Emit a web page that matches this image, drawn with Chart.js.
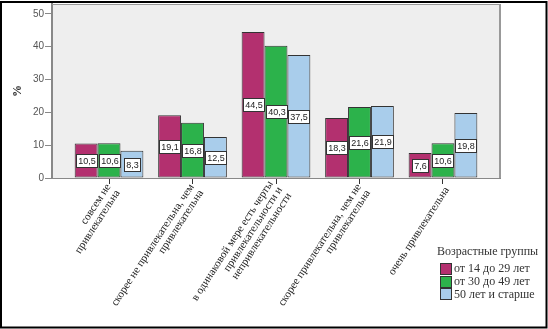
<!DOCTYPE html>
<html><head><meta charset="utf-8">
<script src="https://cdn.jsdelivr.net/npm/chart.js@4/dist/chart.umd.min.js"></script>
<style>html,body{margin:0;padding:0;background:#fff}#w{width:548px;height:329px;position:relative}</style>
</head><body><div id="w"><canvas id="c" width="548" height="329"></canvas></div>
<script>
const categories = [
  ["совсем не", "привлекательна"],
  ["скорее не привлекательна, чем", "привлекательна"],
  ["в одинаковой мере есть черты", "привлекательности и", "непривлекательности"],
  ["скорее привлекательна, чем не", "привлекательна"],
  ["очень привлекательна"]
];
const seriesNames = ["от 14 до 29 лет", "от 30 до 49 лет", "50 лет и старше"];
const age14to29 = [10.5, 19.1, 44.5, 18.3, 7.6];
const age30to49 = [10.6, 16.8, 40.3, 21.6, 10.6];
const age50plus = [8.3, 12.5, 37.5, 21.9, 19.8];
const yTicks = [0, 10, 20, 30, 40, 50];
const legendTitle = "Возрастные группы";
const yTitle = "%";

const colors = ["#B3306F", "#2CB24B", "#A9CDEB"];
const seriesValues = [age14to29, age30to49, age50plus];

const toPoints = arr => arr.map((v, i) => ({x: i + 1, y: v}));

const LABEL_ANGLE = 57 * Math.PI / 180;
const LABEL_LH = 11;

const bgPlugin = {
  id: 'bg',
  beforeDraw(chart) {
    const {ctx, chartArea: a} = chart;
    ctx.save();
    ctx.fillStyle = '#fff';
    ctx.fillRect(0, 0, chart.width, chart.height);
    ctx.fillStyle = '#EEEEEE';
    ctx.fillRect(a.left, a.top, a.right - a.left, a.bottom - a.top);
    ctx.restore();
  },
  afterDatasetsDraw(chart) {
    const ctx = chart.ctx;
    ctx.save();
    chart.data.datasets.forEach((ds, di) => {
      const meta = chart.getDatasetMeta(di);
      meta.data.forEach((bar, i) => {
        const v = ds.data[i].y;
        const txt = v.toFixed(1).replace('.', ',');
        ctx.font = '9px "Liberation Sans", Arial, sans-serif';
        const w = Math.round(ctx.measureText(txt).width + 3);
        const h = 13;
        const cy = (bar.y + bar.base) / 2;
        const x0 = Math.round(bar.x - w / 2) + 0.5;
        const y0 = Math.round(cy - h / 2) + 0.5;
        ctx.fillStyle = '#fff';
        ctx.fillRect(x0, y0, w, h);
        ctx.strokeStyle = '#333';
        ctx.lineWidth = 1;
        ctx.strokeRect(x0, y0, w, h);
        ctx.fillStyle = '#222';
        ctx.textAlign = 'center';
        ctx.textBaseline = 'middle';
        ctx.fillText(txt, x0 + w / 2, y0 + h / 2 + 0.5);
      });
    });
    ctx.restore();
  },
  afterDraw(chart) {
    const {ctx, chartArea: a} = chart;
    const xs = chart.scales.x;
    ctx.save();
    // category labels, rotated, anchored to the axis ticks
    ctx.font = '11px "Liberation Serif", "Times New Roman", serif';
    ctx.fillStyle = '#222';
    ctx.textAlign = 'right';
    ctx.textBaseline = 'middle';
    const vx = Math.sin(LABEL_ANGLE), vy = Math.cos(LABEL_ANGLE);
    categories.forEach((lines, i) => {
      const px = xs.getPixelForValue(i + 1);
      const ax = px + 4, ay = a.bottom + 10;
      const n = lines.length;
      lines.forEach((line, k) => {
        const off = (k - (n - 1) / 2) * LABEL_LH;
        ctx.save();
        ctx.translate(ax + off * vx, ay + off * vy);
        ctx.rotate(-LABEL_ANGLE);
        ctx.fillText(line, 0, 0);
        ctx.restore();
      });
    });
    // plot frame top and right
    ctx.strokeStyle = '#999';
    ctx.lineWidth = 1;
    ctx.beginPath();
    ctx.moveTo(a.left, a.top + 0.5);
    ctx.lineTo(a.right, a.top + 0.5);
    ctx.stroke();
    ctx.lineWidth = 2;
    ctx.beginPath();
    ctx.moveTo(a.right, a.top);
    ctx.lineTo(a.right, a.bottom);
    ctx.stroke();
    // legend
    ctx.font = '12px "Liberation Serif", "Times New Roman", serif';
    ctx.fillStyle = '#333';
    ctx.textAlign = 'left';
    ctx.textBaseline = 'middle';
    ctx.fillText(legendTitle, 437, 252);
    seriesNames.forEach((name, i) => {
      const cy = 268.5 + i * 12.7;
      ctx.fillStyle = colors[i];
      ctx.fillRect(440.5, Math.round(cy - 5.5) + 0.5, 11, 11);
      ctx.strokeStyle = '#333';
      ctx.lineWidth = 1;
      ctx.strokeRect(440.5, Math.round(cy - 5.5) + 0.5, 11, 11);
      ctx.fillStyle = '#333';
      ctx.fillText(name, 454, cy + 0.5);
    });
    // outer frame
    ctx.strokeStyle = '#000';
    ctx.lineWidth = 2;
    ctx.strokeRect(1, 2, 545.5, 325.5);
    ctx.restore();
  }
};

new Chart(document.getElementById('c'), {
  type: 'bar',
  data: {
    datasets: seriesValues.map((vals, i) => ({
      label: seriesNames[i],
      data: toPoints(vals),
      backgroundColor: colors[i],
      borderColor: '#333',
      borderWidth: 1,
      borderSkipped: false,
      categoryPercentage: 0.823,
      barPercentage: 1
    }))
  },
  options: {
    responsive: false,
    animation: false,
    devicePixelRatio: 1,
    layout: {padding: {left: 0, top: 4, right: 48, bottom: 0}},
    plugins: {legend: {display: false}, tooltip: {enabled: false}},
    scales: {
      x: {
        type: 'linear',
        offset: false,
        min: 0.317,
        max: 5.683,
        afterBuildTicks: s => { s.ticks = categories.map((c, i) => ({value: i + 1})); },
        afterFit: s => { s.height = 151; s.paddingLeft = 0; s.paddingRight = 0; },
        grid: {offset: false, drawOnChartArea: false, drawTicks: true, tickLength: 6, color: '#333'},
        border: {display: true, color: '#888', width: 1},
        ticks: {
          autoSkip: false,
          maxRotation: 0,
          callback: () => ''
        }
      },
      y: {
        min: 0,
        max: 53,
        afterBuildTicks: s => { s.ticks = yTicks.map(v => ({value: v})); },
        afterFit: s => { s.width = 52; s.paddingTop = 0; s.paddingBottom = 0; },
        grid: {drawOnChartArea: false, drawTicks: true, tickLength: 7, color: '#888'},
        border: {display: true, color: '#888', width: 2},
        ticks: {
          padding: 1,
          color: '#555',
          font: {family: '"Liberation Sans", Arial, sans-serif', size: 10}
        },
        title: {
          display: true,
          text: yTitle,
          color: '#222',
          padding: {top: 11, bottom: 0},
          font: {family: '"Liberation Serif", "Times New Roman", serif', size: 12, weight: 'bold'}
        }
      }
    }
  },
  plugins: [bgPlugin]
});
</script>
</body></html>
